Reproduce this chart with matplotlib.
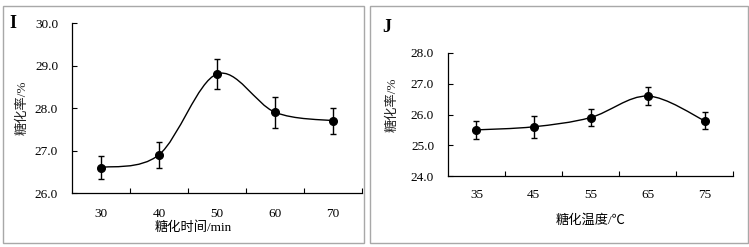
import numpy as np
import matplotlib.pyplot as plt
from matplotlib.path import Path
from matplotlib.patches import PathPatch, Rectangle
from matplotlib.ticker import FixedLocator, NullFormatter

# 数据
time_labels = ['30', '40', '50', '60', '70']
time_rate = [26.6, 26.9, 28.8, 27.9, 27.7]
time_err = [0.27, 0.30, 0.35, 0.37, 0.30]

temp_labels = ['35', '45', '55', '65', '75']
temp_rate = [25.5, 25.6, 25.9, 26.6, 25.8]
temp_err = [0.30, 0.35, 0.28, 0.30, 0.28]

fonts = ['Liberation Serif', 'Noto Sans CJK SC']
plt.rcParams['font.family'] = fonts
plt.rcParams['font.size'] = 9.5


# Excel 风格的平滑曲线 (Bezier)
def smooth_path(xs, ys):
    pts = np.column_stack([xs, ys]).astype(float)
    n = len(pts)
    verts = [pts[0]]
    codes = [Path.MOVETO]
    for i in range(n - 1):
        p0 = pts[max(i - 1, 0)]
        p1 = pts[i]
        p2 = pts[i + 1]
        p3 = pts[min(i + 2, n - 1)]
        c1 = p1 + (p2 - p0) / 6
        c2 = p2 - (p3 - p1) / 6
        verts += [c1, c2, p2]
        codes += [Path.CURVE4] * 3
    return Path(verts, codes)


def draw_panel(ax, labels, vals, errs, ymin, ymax, xlabel, xpad):
    x = np.arange(len(labels))
    ax.add_patch(PathPatch(smooth_path(x, vals), fill=False, color='black', lw=1.0))
    ax.errorbar(x, vals, yerr=errs, fmt='o', color='black', ms=5.5,
                ecolor='black', elinewidth=1.0, capsize=2.5, capthick=1.0)
    ax.set_xlim(-0.5, len(labels) - 0.5)
    ax.set_ylim(ymin, ymax)
    ax.set_yticks(np.arange(ymin, ymax + 0.01, 1.0))
    ax.set_yticklabels(['%.1f' % v for v in np.arange(ymin, ymax + 0.01, 1.0)])
    ax.set_xticks(x)
    ax.set_xticklabels(labels)
    ax.xaxis.set_minor_locator(FixedLocator(np.arange(0.5, len(labels), 1.0)))
    ax.xaxis.set_minor_formatter(NullFormatter())
    ax.tick_params(axis='x', which='major', length=0, pad=xpad)
    ax.tick_params(axis='x', which='minor', direction='in', length=3.5, width=0.8)
    ax.tick_params(axis='y', direction='in', length=3.5, width=0.8, pad=10)
    for s in ['top', 'right']:
        ax.spines[s].set_visible(False)
    for s in ['left', 'bottom']:
        ax.spines[s].set_linewidth(0.9)
    ax.set_ylabel('糖化率/%', fontsize=9.5, color='#222222')
    ax.set_xlabel(xlabel, fontsize=9.5)


W, H = 749, 247
fig = plt.figure(figsize=(W / 100, H / 100), dpi=100)

# 外框
for x0, y0, x1, y1 in [(3, 6, 364, 243), (370, 6, 748, 243)]:
    fig.patches.append(Rectangle((x0 / W, 1 - y1 / H), (x1 - x0) / W, (y1 - y0) / H,
                                 transform=fig.transFigure, fill=False,
                                 edgecolor='#a8a8a8', lw=1.0))

ax1 = fig.add_axes([72 / W, 1 - 193 / H, 290 / W, 170 / H])
draw_panel(ax1, time_labels, time_rate, time_err, 26.0, 30.0, '糖化时间/min', 10.5)
ax1.yaxis.set_label_coords(-0.15, 0.5)
ax1.xaxis.set_label_coords(0.417, -0.165)

ax2 = fig.add_axes([448 / W, 1 - 176 / H, 285 / W, 123 / H])
draw_panel(ax2, temp_labels, temp_rate, temp_err, 24.0, 28.0, '糖化温度/℃', 9.5)
ax2.yaxis.set_label_coords(-0.172, 0.58)
ax2.xaxis.set_label_coords(0.5, -0.31)

fig.text(13 / W, 1 - 23 / H, 'I', fontsize=13, fontweight='bold', va='center', ha='center')
fig.text(387 / W, 1 - 27 / H, 'J', fontsize=13, fontweight='bold', va='center', ha='center')

fig.savefig('out.png', dpi=100)
